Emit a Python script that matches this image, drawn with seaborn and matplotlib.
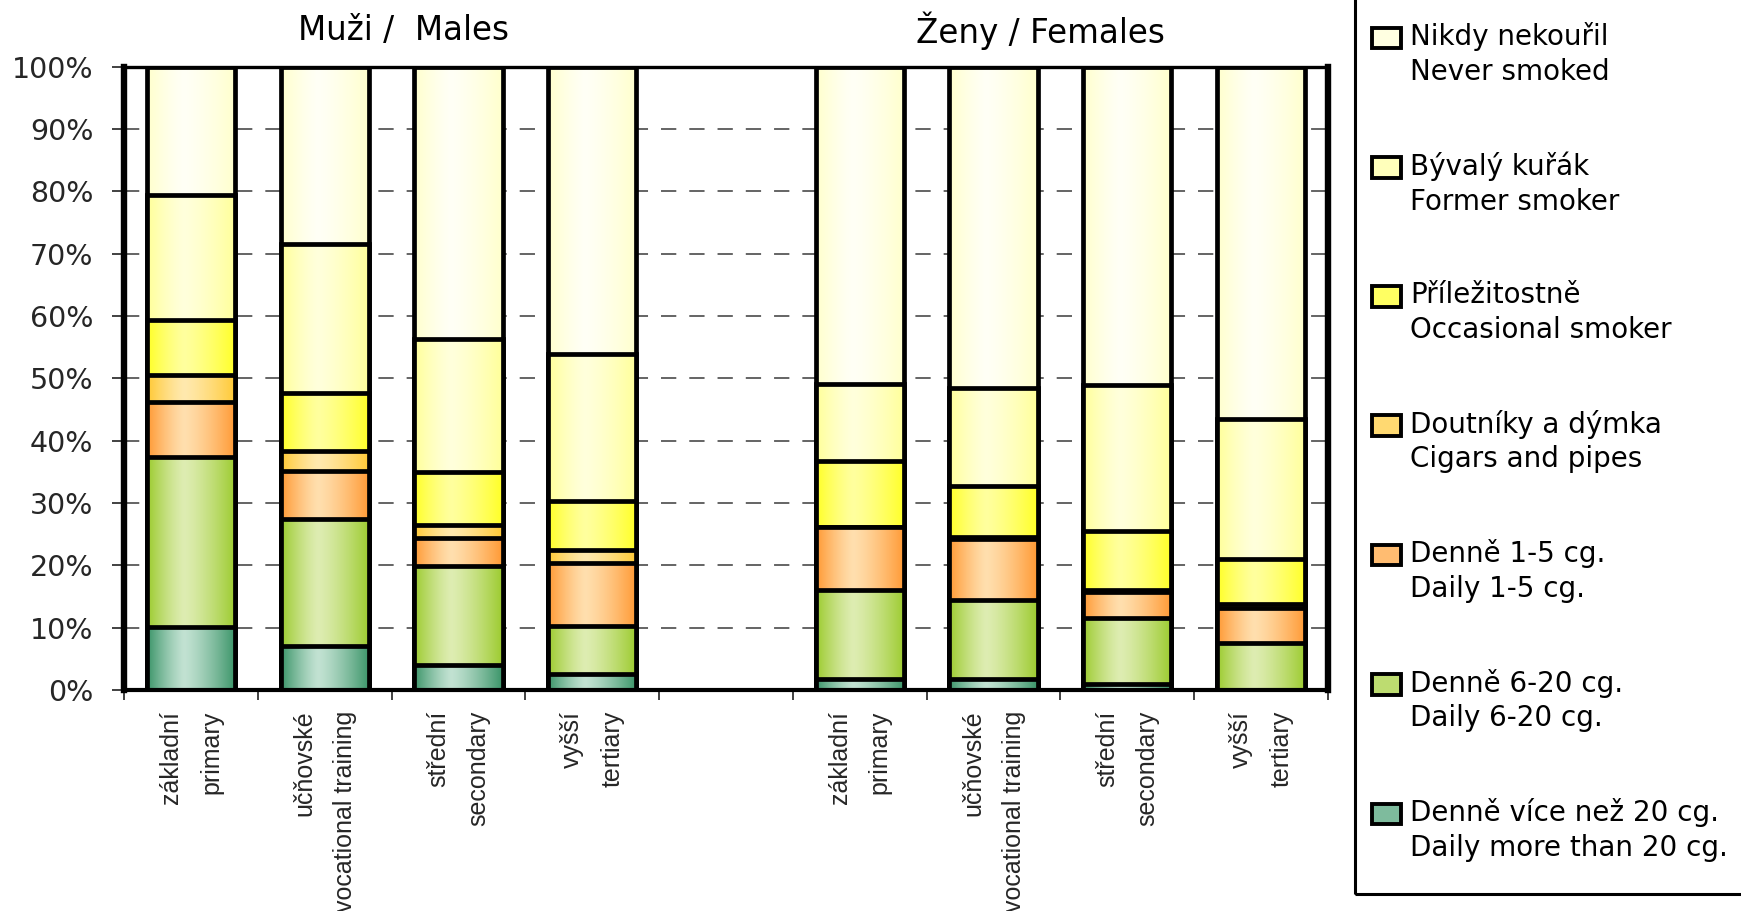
import numpy as np
import pandas as pd
import matplotlib
matplotlib.use("Agg")
import matplotlib.pyplot as plt
import seaborn as sns
from matplotlib import font_manager
from matplotlib.colors import to_rgb
from matplotlib.patches import Patch, Rectangle
from matplotlib.legend_handler import HandlerPatch

# ---------------- data ----------------
education_cz = ["základní", "učňovské", "střední", "vyšší"]
education_en = ["primary", "vocational training", "secondary", "tertiary"]
group_titles = ["Muži /  Males", "Ženy / Females"]
slot_positions = [0, 1, 2, 3, 5, 6, 7, 8]          # males 0-3, empty slot 4, females 5-8

categories_cz = ["Denně více než 20 cg.", "Denně 6-20 cg.", "Denně 1-5 cg.",
                 "Doutníky a dýmka", "Příležitostně", "Bývalý kuřák", "Nikdy nekouřil"]
categories_en = ["Daily more than 20 cg.", "Daily 6-20 cg.", "Daily 1-5 cg.",
                 "Cigars and pipes", "Occasional smoker", "Former smoker", "Never smoked"]

#                  M prim M voc M sec M ter  F prim F voc F sec F ter
daily_over20   = [10.1,  7.0,  4.0,  2.6,   1.7,  1.7,  1.0,  0.0]
daily_6_20     = [27.3, 20.4, 15.9,  7.7,  14.3, 12.8, 10.6,  7.6]
daily_1_5      = [ 8.8,  7.7,  4.5, 10.0,  10.2,  9.7,  4.2,  5.6]
cigars_pipes   = [ 4.4,  3.2,  2.0,  2.2,   0.0,  0.3,  0.2,  0.6]
occasional     = [ 8.7,  9.4,  8.6,  7.9,  10.5,  8.2,  9.5,  7.2]
former_smoker  = [20.1, 23.8, 21.3, 23.5,  12.4, 15.7, 23.5, 22.5]
never_smoked   = [20.6, 28.5, 43.7, 46.1,  50.9, 51.6, 51.0, 56.5]

series = [daily_over20, daily_6_20, daily_1_5, cigars_pipes,
          occasional, former_smoker, never_smoked]

# gradient colours (edge, centre) for each category
edge_colors = ["#3A9468", "#9CCB2E", "#FF9933", "#FFC933", "#FFFF26", "#FFFF99", "#FFFFCC"]
center_colors = ["#C2E2D2", "#DEEDB2", "#FFDFAE", "#FFE9AE", "#FFFF9E", "#FFFFDC", "#FFFFF6"]

# ---------------- style ----------------
sns.set_style("white")
plt.rcParams["font.family"] = ["DejaVu Sans"]
plt.rcParams["text.color"] = "black"


def has_font(name):
    try:
        font_manager.findfont(font_manager.FontProperties(family=name),
                              fallback_to_default=False)
        return True
    except Exception:
        return False


if has_font("Liberation Sans Narrow"):
    xfam, xsize = ["Liberation Sans Narrow", "DejaVu Sans"], 22
else:
    xfam, xsize = ["Liberation Sans", "DejaVu Sans"], 18

W, H = 1741, 911
fig = plt.figure(figsize=(W / 100, H / 100), dpi=100)
ax = fig.add_axes([124 / W, 1 - 690 / H, (1328 - 124) / W, (690 - 66.7) / H])

# long-form table
rows = []
for cat_i, vals in enumerate(series):
    for pos, v in zip(slot_positions, vals):
        rows.append({"pos": pos, "cat": cat_i, "value": v})
df = pd.DataFrame(rows)
df["cum"] = df.groupby("pos")["value"].cumsum()


def gradient_row(edge, center, n=256, c=0.42):
    e = np.array(to_rgb(edge))
    m = np.array(to_rgb(center))
    t = np.linspace(0, 1, n)
    s = np.where(t < c, (c - t) / c, (t - c) / (1 - c))
    s = s ** 1.3
    rgb = m[None, :] + (e - m)[None, :] * s[:, None]
    return rgb[None, :, :]


# stacked bars: draw cumulative bars from the top category down
zbase = 2
for k, cat_i in enumerate(range(len(series) - 1, -1, -1)):
    sub = df[df["cat"] == cat_i]
    n_before = len(ax.patches)
    sns.barplot(data=sub, x="pos", y="cum", native_scale=True, width=0.66,
                color=edge_colors[cat_i], saturation=1, errorbar=None,
                edgecolor="black", linewidth=3.4, ax=ax)
    grad = gradient_row(edge_colors[cat_i], center_colors[cat_i])
    for p in ax.patches[n_before:]:
        x0, y0 = p.get_x(), p.get_y()
        w, h = p.get_width(), p.get_height()
        p.set_facecolor("none")
        p.set_zorder(zbase + k + 0.5)
        if h > 0:
            ax.imshow(grad, extent=(x0, x0 + w, y0, y0 + h), aspect="auto",
                      interpolation="bilinear", zorder=zbase + k)

# axes limits / spines
ax.set_xlim(-0.5, 8.5)
ax.set_ylim(0, 100)
ax.set_aspect("auto")
for side, lw in [("left", 4.6), ("right", 4.6), ("top", 2.4), ("bottom", 3.0)]:
    ax.spines[side].set_visible(True)
    ax.spines[side].set_color("black")
    ax.spines[side].set_linewidth(lw)
    ax.spines[side].set_zorder(20)

# grid
ax.set_axisbelow(True)
ax.yaxis.grid(True, color="#3a3a3a", linewidth=1.1, linestyle=(0, (10, 8.5)))
ax.xaxis.grid(False)

# y axis
yt = list(range(0, 101, 10))
ax.set_yticks(yt, labels=[f"{v}%" for v in yt])
ax.tick_params(axis="y", which="major", left=True, length=9, width=1.3,
               color="#333333", pad=13, labelsize=20.5, direction="out")

# x axis
ax.set_xlabel("")
ax.set_ylabel("")
xlabels = [f"{cz}\n{en}" for cz, en in zip(education_cz, education_en)] * 2
ax.set_xticks(slot_positions)
ax.set_xticklabels(xlabels, rotation=90, ha="center", va="top",
                   multialignment="right", linespacing=1.85,
                   family=xfam, fontsize=xsize)
ax.set_xticks(np.arange(-0.5, 9.0, 1.0), minor=True)
ax.tick_params(axis="x", which="major", bottom=True, length=0, pad=15)
ax.tick_params(axis="x", which="minor", bottom=True, length=7.5, width=1.3,
               color="#333333", direction="out")

# group titles
fig.text(403.6 / W, 1 - 30.5 / H, group_titles[0], ha="center", va="center", fontsize=23.5)
fig.text(1040.5 / W, 1 - 30.5 / H, group_titles[1], ha="center", va="center", fontsize=23.5)


# legend (top category first); handle aligned with the first text line
def first_line_patch(legend, orig_handle, xdescent, ydescent, width, height, fontsize):
    return Rectangle((-xdescent, -ydescent + 12.5), width, height)


handles, labels = [], []
for cat_i in range(len(series) - 1, -1, -1):
    mid = 0.5 * (np.array(to_rgb(edge_colors[cat_i])) + np.array(to_rgb(center_colors[cat_i])))
    handles.append(Patch(facecolor=mid, edgecolor="black", linewidth=2.8))
    labels.append(f"{categories_cz[cat_i]}\n{categories_en[cat_i]}")
leg = fig.legend(handles, labels, loc="upper left", bbox_to_anchor=(1372 / W, 1 - 22 / H),
                 frameon=False, fontsize=20, handlelength=1.05, handleheight=0.75,
                 handletextpad=0.32, labelspacing=2.37, borderpad=0, borderaxespad=0,
                 handler_map={Patch: HandlerPatch(patch_func=first_line_patch)})
for t in leg.get_texts():
    t.set_linespacing(1.3)

# legend box
fig.patches.append(Rectangle((1355 / W, 1 - 894 / H), 0.5, 1.0, transform=fig.transFigure,
                             fill=False, edgecolor="black", linewidth=2.2, zorder=5))

fig.savefig("out.png", dpi=100)
